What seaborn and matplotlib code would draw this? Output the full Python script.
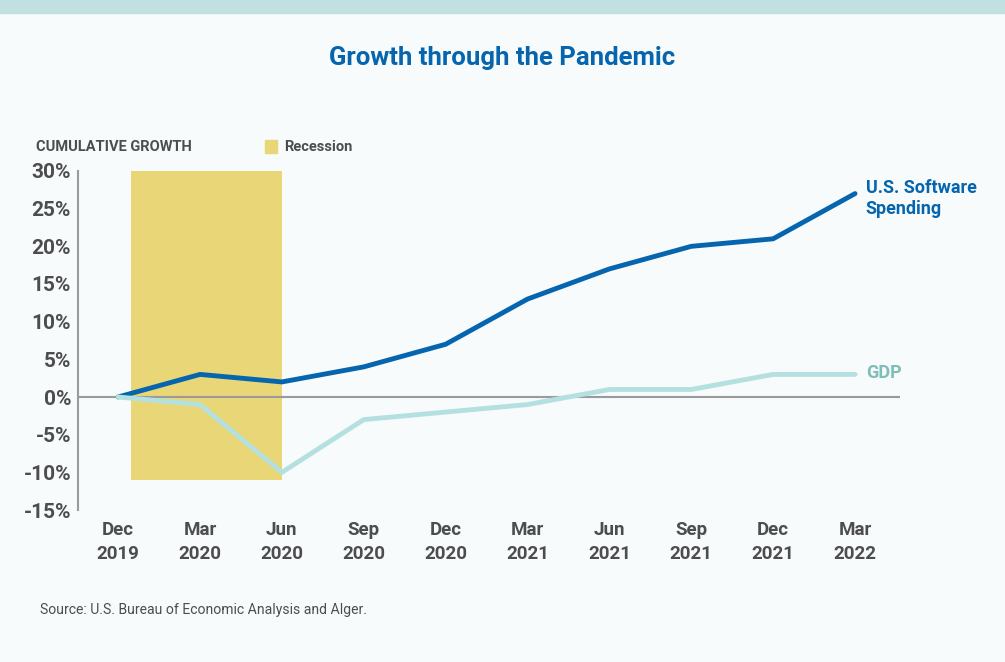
import numpy as np
import pandas as pd
import seaborn as sns
import matplotlib.pyplot as plt
from matplotlib.patches import Rectangle

# data
quarters = ["Dec\n2019", "Mar\n2020", "Jun\n2020", "Sep\n2020", "Dec\n2020",
            "Mar\n2021", "Jun\n2021", "Sep\n2021", "Dec\n2021", "Mar\n2022"]
software = [0, 3, 2, 4, 7, 13, 17, 20, 21, 27]
gdp = [0, -1, -10, -3, -2, -1, 1, 1, 3, 3]
recession_start = 0.16
recession_end = 2.0
recession_bottom = -11
recession_top = 30

blue = "#0565AE"
teal = "#B4E1DF"
teal_txt = "#7EBDB8"
yellow = "#E8D677"
grey = "#4D4D4F"
bg = "#F7FBFB"

sns.set_theme(style="white")
plt.rcParams['font.family'] = ['Roboto', 'DejaVu Sans']

df = pd.DataFrame({
    "pos": list(range(len(quarters))) * 2,
    "growth": software + gdp,
    "series": ["Software"] * len(software) + ["GDP"] * len(gdp),
})

fig = plt.figure(figsize=(10.05, 6.62), dpi=100, facecolor=bg)
ax = fig.add_axes([0.0776, 0.2296, 0.818, 0.5121])
ax.set_facecolor(bg)

# top band
fig.patches.append(Rectangle((0, 1 - 13 / 662), 1, 13 / 662, transform=fig.transFigure,
                             color="#C2E0DF", zorder=0))

ax.add_patch(Rectangle((recession_start, recession_bottom), recession_end - recession_start,
                       recession_top - recession_bottom, color=yellow, lw=0, zorder=1))
ax.axhline(0, color="#9A9A9A", lw=1.5, zorder=2)

sns.lineplot(data=df, x="pos", y="growth", hue="series",
             palette={"Software": blue, "GDP": teal}, linewidth=3.5,
             legend=False, ax=ax, zorder=3)

ax.set_xlim(-0.49, 9.55)
ax.set_ylim(-15, 30)
ax.set_yticks(range(-15, 31, 5))
ax.set_yticklabels([f"{v}%" for v in range(-15, 31, 5)], fontsize=15,
                   fontweight="bold", color=grey)
ax.set_xticks(range(len(quarters)))
ax.set_xticklabels(quarters, fontsize=13.5, fontweight="bold", color=grey, linespacing=1.4)
ax.tick_params(axis="both", length=0, pad=5)
ax.tick_params(axis="x", pad=8)
ax.set_xlabel("")
ax.set_ylabel("")
for s in ["top", "right", "bottom"]:
    ax.spines[s].set_visible(False)
ax.spines["left"].set_color("#9A9A9A")
ax.spines["left"].set_linewidth(1.5)

ax.text(9.13, 26.3, "U.S. Software\nSpending", color=blue, fontsize=13,
        fontweight="bold", va="center", ha="left", linespacing=1.2)
ax.text(9.13, 3.2, "GDP", color=teal_txt, fontsize=13, fontweight="bold",
        va="center", ha="left")

fig.text(0.5, 0.912, "Growth through the Pandemic", color=blue, fontsize=18.5,
         fontweight="bold", ha="center", va="center")
fig.text(36 / 1005, 1 - 147 / 662, "CUMULATIVE GROWTH", color=grey, fontsize=10.5,
         fontweight="bold", va="center")
fig.patches.append(Rectangle((265 / 1005, 1 - 153 / 662), 12 / 1005, 13 / 662,
                             transform=fig.transFigure, color=yellow))
fig.text(284 / 1005, 1 - 147 / 662, "Recession", color=grey, fontsize=10.5,
         fontweight="bold", va="center")
fig.text(40 / 1005, 1 - 610 / 662, "Source: U.S. Bureau of Economic Analysis and Alger.",
         color=grey, fontsize=10.1, va="center")

fig.savefig("out.png", dpi=100, facecolor=bg)
